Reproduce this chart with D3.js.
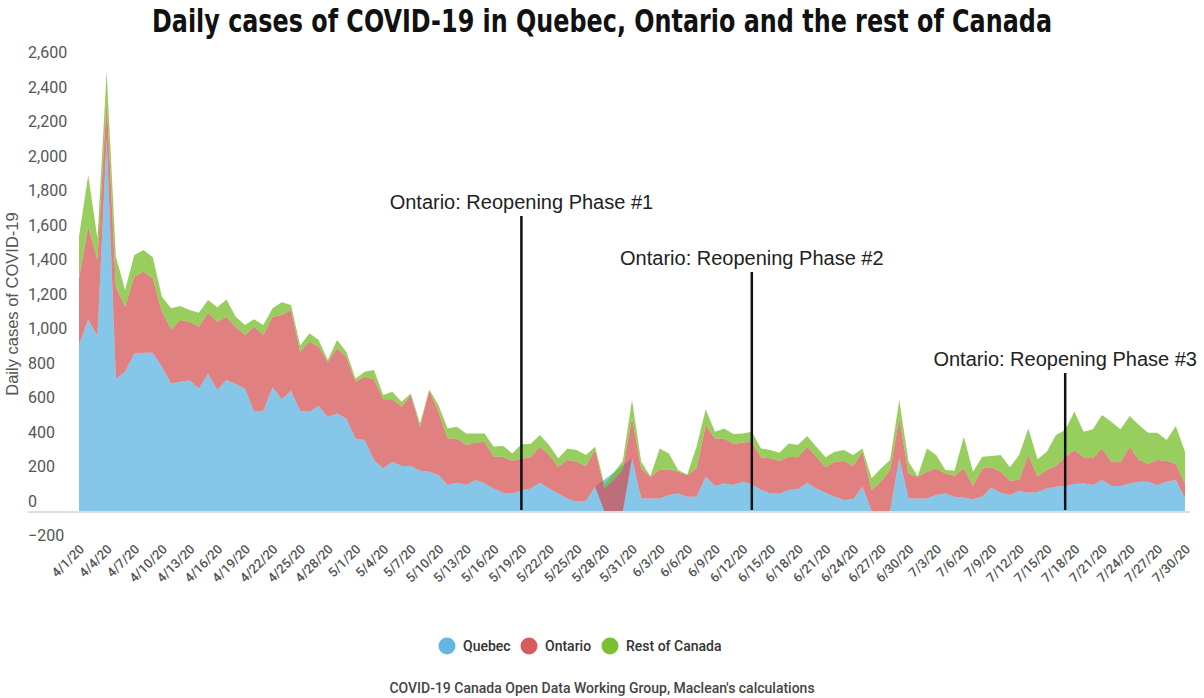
<!DOCTYPE html>
<html>
<head>
<meta charset="utf-8">
<script src="https://cdn.jsdelivr.net/npm/d3@7"></script>
<style>
  body { margin: 0; background: #fff; }
  svg text { font-family: Roboto, "Liberation Sans", sans-serif; }
</style>
</head>
<body>
<svg id="chart" width="1204" height="698"></svg>
<script>
// daily cases, 4/1/20 .. 7/30/20 (one value per day)
const quebec = [
  963,1111,1015,2160,769,808,914,918,918,837,740,750,756,711,798,702,760,736,711,576,582,717,648,698,580,
  576,609,547,566,537,421,412,296,247,286,261,261,234,228,209,151,164,151,180,160,131,106,102,117,
  131,164,131,102,73,54,60,141,
  null,null,null,
  306,73,73,73,93,102,83,83,199,145,160,151,
  170,155,122,103,100,122,126,164,131,106,83,64,68,141,
  0,0,0,
  306,73,73,73,93,102,83,
  79,68,83,137,106,93,118,106,110,131,141,145,157,160,151,180,145,145,160,170,170,151,170,180,75
];
const ontario = [
  386,538,441,223,532,377,445,470,431,319,314,358,342,358,352,396,367,333,310,493,439,410,489,468,344,
  406,344,319,377,358,329,367,468,401,362,344,412,255,472,367,270,257,232,216,242,184,209,190,186,
  180,209,194,155,223,232,201,213,
  130,180,240,
  234,174,126,165,149,126,126,164,300,276,261,237,
  227,247,189,203,190,193,185,209,184,147,203,226,193,203,
  122,170,238,
  232,145,126,155,154,116,121,
  168,77,164,116,122,83,62,219,89,107,120,170,197,151,155,183,141,137,213,126,103,145,122,93,85
];
const restOfCanada = [
  242,299,125,165,174,97,126,126,122,87,121,81,68,81,74,83,100,58,58,43,58,48,73,29,35,
  48,39,10,49,29,19,29,54,25,44,29,9,19,5,39,58,68,67,54,48,58,64,42,84,
  77,68,58,49,67,68,64,19,
  25,40,50,
  104,39,3,125,92,10,3,126,91,39,58,58,
  53,58,52,48,48,77,72,62,58,58,58,64,64,19,
  68,77,58,
  106,68,3,135,78,20,29,
  184,83,68,66,97,77,145,154,101,106,180,155,223,149,168,194,232,192,178,203,181,158,120,220,184
];
const seriesNames = ["Quebec", "Ontario", "Rest of Canada"];
const phaseDates = ["2020-05-19", "2020-06-13", "2020-07-17"];
const phaseLabels = ["Ontario: Reopening Phase #1", "Ontario: Reopening Phase #2", "Ontario: Reopening Phase #3"];
const yTicks = [-200, 0, 200, 400, 600, 800, 1000, 1200, 1400, 1600, 1800, 2000, 2200, 2400, 2600];

const colors = ["#52aede", "#d34a4c", "#6cb919"];
const parse = d3.timeParse("%Y-%m-%d");
const dates = d3.timeDay.range(new Date(2020, 3, 1), new Date(2020, 6, 31));

const rows = dates.map((d, i) => {
  const q = quebec[i];
  const q0 = q == null ? 0 : q;
  return { date: d, q: q, q0: q0, qo: q0 + ontario[i], total: q0 + ontario[i] + restOfCanada[i] };
});

const svg = d3.select("#chart");

const x = d3.scaleTime()
  .domain([dates[0], dates[dates.length - 1]])
  .range([79, 1185]);
const y = d3.scaleLinear()
  .domain([-200, 2600])
  .range([545.5, 62.6]);

// title, fitted to the reference width and stretched a little (condensed heavy face)
const title = svg.append("text")
  .attr("transform", "translate(602,32) scale(1,1.18)")
  .attr("text-anchor", "middle")
  .style("font-family", '"Liberation Sans Narrow", "DejaVu Sans Condensed", sans-serif')
  .style("font-weight", 700)
  .style("font-size", "31px")
  .style("fill", "#111")
  .text("Daily cases of COVID-19 in Quebec, Ontario and the rest of Canada");
const tlen = title.node().getComputedTextLength();
if (tlen > 0) title.style("font-size", (31 * 900 / tlen) + "px");

// y axis (labels sit above their value)
const yAxis = svg.append("g")
  .attr("transform", "translate(28,0)")
  .call(d3.axisLeft(y).tickValues(yTicks).tickFormat(d3.format(",")).tickSize(0));
yAxis.select(".domain").remove();
yAxis.selectAll("text")
  .attr("x", 0)
  .attr("dy", "-0.3em")
  .attr("text-anchor", "start")
  .style("font-size", "16px")
  .style("fill", "#555");

svg.append("text")
  .attr("transform", `translate(18,${y(1200)}) rotate(-90)`)
  .attr("text-anchor", "middle")
  .style("font-family", '"Liberation Sans", Arial, sans-serif')
  .style("font-size", "16.5px")
  .style("fill", "#555")
  .text("Daily cases of COVID-19");

// areas
const blueArea = d3.area()
  .x(d => x(d.date))
  .y0(y(0))
  .y1(d => y(d.q));
const redArea = d3.area()
  .x(d => x(d.date))
  .y0(d => y(d.q0))
  .y1(d => y(d.qo));
const greenArea = d3.area()
  .x(d => x(d.date))
  .y0(d => y(d.qo))
  .y1(d => y(d.total));

const areas = svg.append("g");
areas.append("path")
  .attr("d", blueArea(rows.filter(d => d.q != null)))
  .attr("fill", colors[0]).attr("fill-opacity", 0.7);
areas.append("path")
  .attr("d", redArea(rows))
  .attr("fill", colors[1]).attr("fill-opacity", 0.7);
areas.append("path")
  .attr("d", greenArea(rows))
  .attr("fill", colors[2]).attr("fill-opacity", 0.7);

// baseline
svg.append("line")
  .attr("x1", 28).attr("x2", 1190)
  .attr("y1", y(0) + 1).attr("y2", y(0) + 1)
  .attr("stroke", "#dedede").attr("stroke-width", 2);

// x labels, every third day
const fmt = d3.timeFormat("%-m/%-d/%y");
svg.append("g")
  .selectAll("text")
  .data(dates.filter((d, i) => i % 3 === 0))
  .join("text")
  .attr("transform", d => `translate(${x(d) + 6},550) rotate(-45)`)
  .attr("text-anchor", "end")
  .style("font-size", "13px")
  .style("font-weight", 500)
  .style("fill", "#555")
  .text(d => fmt(d));

// reopening annotations
const annoTop = [216, 272, 373];
const anno = svg.append("g")
  .selectAll("g")
  .data(phaseDates.map((d, i) => ({ date: parse(d), label: phaseLabels[i], top: annoTop[i] })))
  .join("g");
anno.append("line")
  .attr("x1", d => x(d.date)).attr("x2", d => x(d.date))
  .attr("y1", d => d.top).attr("y2", y(0) - 1)
  .attr("stroke", "#111").attr("stroke-width", 2.5);
anno.append("text")
  .attr("x", d => x(d.date))
  .attr("y", d => d.top - 7)
  .attr("text-anchor", "middle")
  .style("font-family", '"Liberation Sans", Arial, sans-serif')
  .style("font-size", "20px")
  .style("fill", "#222")
  .text(d => d.label);

// legend
const legendX = [447, 529, 610];
const legend = svg.append("g")
  .selectAll("g")
  .data(seriesNames)
  .join("g")
  .attr("transform", (d, i) => `translate(${legendX[i]},646)`);
legend.append("circle").attr("r", 8.5).attr("fill", (d, i) => colors[i]).attr("fill-opacity", 0.9);
legend.append("text")
  .attr("x", 16).attr("dy", "0.35em")
  .style("font-size", "14px").style("font-weight", 500).style("fill", "#333")
  .text(d => d);

// source
svg.append("text")
  .attr("x", 602).attr("y", 693)
  .attr("text-anchor", "middle")
  .style("font-size", "14px").style("font-weight", 500).style("fill", "#444")
  .text("COVID-19 Canada Open Data Working Group, Maclean's calculations");
</script>
</body>
</html>
